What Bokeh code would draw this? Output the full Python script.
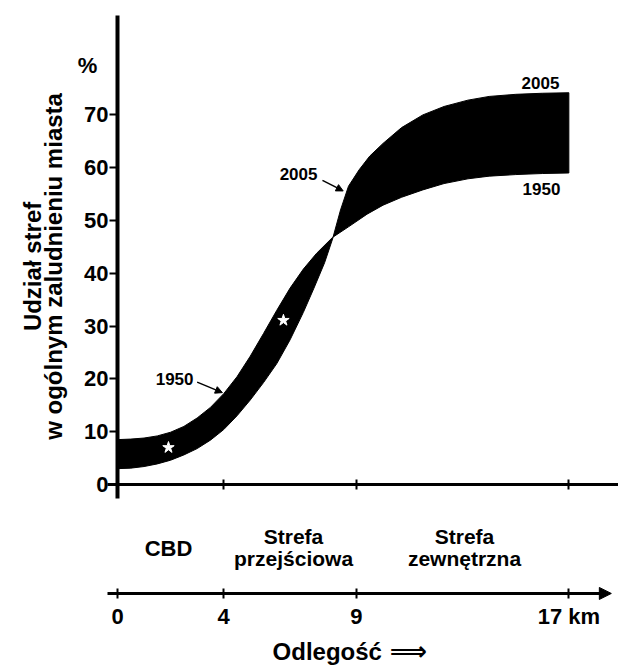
import math
from bokeh.plotting import figure
from bokeh.models import Range1d, LinearAxis, FixedTicker, Label, Arrow, NormalHead
from bokeh.embed import file_html
from bokeh.resources import INLINE

# ---- data ----
dist_1950 = [0.0, 0.5, 1.0, 1.5, 2.0, 2.5, 3.0, 3.5, 4.0, 4.5, 5.0, 5.5, 6.0, 6.5, 7.0, 7.5,
             8.1, 8.7, 9.4, 10.0, 10.7, 11.5, 12.3, 13.2, 14.0, 15.0, 16.0, 17.0]
share_1950 = [8.5, 8.6, 8.8, 9.2, 9.9, 11.0, 12.6, 14.6, 17.2, 20.4, 24.3, 28.6, 33.0, 37.2, 40.8, 43.8,
              46.8, 48.8, 51.2, 52.9, 54.4, 55.8, 57.0, 57.9, 58.4, 58.7, 58.9, 59.0]
dist_2005 = [0.0, 0.5, 1.0, 1.5, 2.0, 2.5, 3.0, 3.5, 4.0, 4.5, 5.0, 5.5, 6.0, 6.5, 7.0, 7.4, 7.8,
             8.1, 8.4, 8.7, 9.1, 9.5, 10.0, 10.7, 11.5, 12.3, 13.2, 14.0, 15.0, 16.0, 17.0]
share_2005 = [3.0, 3.1, 3.4, 3.9, 4.6, 5.6, 6.8, 8.4, 10.4, 13.0, 16.0, 19.3, 22.9, 27.4, 32.6, 37.2, 42.0,
              46.5, 52.0, 56.5, 59.6, 62.2, 64.6, 67.6, 70.0, 71.6, 72.8, 73.5, 73.9, 74.1, 74.2]
marks_x = [1.92, 6.25]
marks_y = [7.0, 31.1]

y_ticks = [0, 10, 20, 30, 40, 50, 60, 70]
x_ticks = [0, 4, 9, 17]
x_tick_labels = {0: "0", 4: "4", 9: "9", 17: "17 km"}

zones = ["CBD", "Strefa\nprzejściowa", "Strefa\nzewnętrzna"]
zone_centers = [1.92, 6.63, 13.07]

FONT = "Liberation Sans"

p = figure(width=618, height=670,
           x_range=Range1d(-4.407, 18.870), y_range=Range1d(-35.23, 91.67),
           x_axis_type=None, y_axis_type=None,
           output_backend="svg", toolbar_location=None, min_border=0,
           outline_line_color=None, background_fill_color="white",
           border_fill_color="white")
p.grid.visible = False

# band between the two curves
band_x = dist_1950 + dist_2005[::-1]
band_y = share_1950 + share_2005[::-1]
p.patch(band_x, band_y, fill_color="black", line_color="black", line_width=1)
p.scatter(marks_x, marks_y, marker="star", size=12, fill_color="white", line_color="white")

# y axis at x = 0
yax = LinearAxis(fixed_location=0, ticker=FixedTicker(ticks=y_ticks), bounds=(-2.7, 88.8),
                 axis_line_width=4, axis_line_color="black",
                 major_tick_out=8, major_tick_in=0, major_tick_line_width=2,
                 minor_tick_out=0, minor_tick_in=0, major_label_standoff=1,
                 major_label_text_font=FONT, major_label_text_font_style="bold",
                 major_label_text_font_size="22px", major_label_text_color="black")
p.add_layout(yax, "left")

# x axis line at y = 0 (ticks only)
x0ax = LinearAxis(fixed_location=0, ticker=FixedTicker(ticks=x_ticks), bounds=(-0.38, 18.87),
                  axis_line_width=3, axis_line_color="black",
                  major_tick_out=5, major_tick_in=5, major_tick_line_width=2,
                  minor_tick_out=0, minor_tick_in=0,
                  major_label_text_font_size="0px", major_label_text_alpha=0)
p.add_layout(x0ax, "below")

# distance axis
xax = LinearAxis(fixed_location=-20.64, ticker=FixedTicker(ticks=x_ticks), bounds=(-0.38, 18.2),
                 axis_line_width=3, axis_line_color="black",
                 major_tick_out=5, major_tick_in=5, major_tick_line_width=2,
                 minor_tick_out=0, minor_tick_in=0, major_label_standoff=6,
                 major_label_overrides=x_tick_labels,
                 major_label_text_font=FONT, major_label_text_font_style="bold",
                 major_label_text_font_size="22px", major_label_text_color="black")
p.add_layout(xax, "below")
p.add_layout(Arrow(end=NormalHead(size=12, fill_color="black", line_color="black"),
                   x_start=18.0, y_start=-20.64, x_end=18.6, y_end=-20.64,
                   line_width=3, line_color="black"))

def lab(x, y, t, size, align="center", base="middle", angle=0.0, font=FONT):
    p.add_layout(Label(x=x, y=y, text=t, text_align=align, text_baseline=base, angle=angle,
                       text_font=font, text_font_style="bold", text_font_size=size,
                       text_color="black"))

# y title
lab(-3.20, 41.3, "Udział stref", "24px", angle=math.pi / 2)
lab(-2.41, 41.3, "w ogólnym zaludnieniu miasta", "24px", angle=math.pi / 2)
lab(-1.13, 79.4, "%", "22px")

# zone labels
for name, cx in zip(zones, zone_centers):
    lines = name.split("\n")
    if len(lines) == 1:
        lab(cx, -12.1, lines[0], "22px", base="alphabetic")
    else:
        lab(cx, -9.85, lines[0], "21px", base="alphabetic")
        lab(cx, -14.0, lines[1], "21px", base="alphabetic")

# x title
lab(5.84, -31.6, "Odlegość", "24px", align="left")
lab(10.25, -31.6, "⟹", "26px", align="left", font="DejaVu Sans")

# year annotations
lab(2.15, 19.9, "1950", "17px")
p.add_layout(Arrow(end=NormalHead(size=7, fill_color="black", line_color="black"),
                   x_start=3.0, y_start=19.4, x_end=3.95, y_end=17.4, line_width=1.5))
lab(6.82, 58.9, "2005", "17px")
p.add_layout(Arrow(end=NormalHead(size=7, fill_color="black", line_color="black"),
                   x_start=7.72, y_start=57.6, x_end=8.5, y_end=55.6, line_width=1.5))
lab(15.93, 76.1, "2005", "17px")
lab(15.97, 55.9, "1950", "17px")

open("out.html", "w").write(file_html(p, INLINE))
